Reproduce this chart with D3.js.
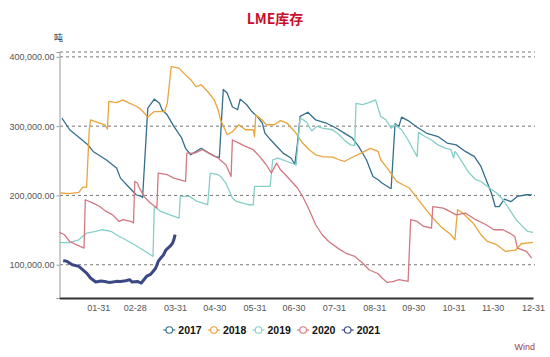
<!DOCTYPE html>
<html><head><meta charset="utf-8">
<script src="https://cdn.jsdelivr.net/npm/d3@7/dist/d3.min.js"></script>
<style>body{margin:0;background:#fff;} svg{display:block;font-family:"Liberation Sans","DejaVu Sans",sans-serif;}</style>
</head><body><svg id="c" width="550" height="357"></svg>
<script>
const titleText = "LME库存";
const unitText = "吨";
const sourceText = "Wind";
const years = ["2017", "2018", "2019", "2020", "2021"];
const colors = ["#356f8d", "#e9a43c", "#86cfc8", "#d27882", "#3b4883"];
const yTicks = [100000, 200000, 300000, 400000];
const xTickLabels = ["01-31","02-28","03-31","04-30","05-31","06-30","07-31","08-31","09-30","10-31","11-30","12-31"];

// day-of-year (0 = Jan 1) and inventory values (tonnes)
const days2017 = [2,8,22,26,36,44,47,53,59,63,64,68,73,77,79,83,88,94,97,101,109,115,120,123,126,129,133,137,139,144,148,152,156,158,162,167,172,178,181,183,185,191,197,205,213,219,225,230,236,241,245,248,254,255,258,261,263,269,275,282,291,298,305,312,319,324,328,332,335,338,342,347,352,359,363];
const vals2017 = [311700,294800,273000,263500,251500,239500,225000,213000,201000,198600,197000,326000,339000,333000,323700,316000,299600,283000,268000,258700,268000,261000,256000,255000,353000,347700,328000,323700,339000,330900,321000,314000,304500,290000,281000,271000,261000,254000,245000,275000,314000,320000,309000,304500,297000,290000,283000,270700,251500,227400,222700,217900,210700,210000,303500,299600,313000,306800,298500,290000,285000,275600,273000,263500,256000,241800,222700,203500,184000,184000,194800,191000,198600,201000,201000];

const days2018 = [1,8,15,18,21,23,24,31,35,37,38,44,49,53,60,63,68,73,78,81,83,86,92,97,101,105,109,114,119,122,124,129,133,138,143,149,150,151,156,159,165,170,175,181,187,192,197,202,210,215,219,224,232,239,245,247,252,259,264,269,274,280,287,293,301,304,306,310,318,324,329,336,343,351,355,364];
const vals2018 = [203500,202500,204300,212000,212000,294800,309000,304500,302000,295800,335600,334000,338000,334000,328000,323700,313000,321000,321000,321000,333000,386000,383800,374000,367000,357000,359700,350000,338000,323700,309000,287600,292000,302000,294800,294800,285000,316000,309000,302000,302000,308000,304500,292000,275600,266000,258700,256000,255400,251500,249000,254000,261000,268000,263500,251500,239500,220600,215400,210700,198600,184000,167400,155300,143300,136000,179400,174600,160000,143300,133600,128900,119200,121600,130300,132200];

const days2019 = [0,8,15,21,28,33,40,45,51,60,64,68,72,73,78,85,92,93,100,106,114,116,122,124,128,133,136,141,145,149,150,162,164,168,175,182,185,190,194,198,202,210,215,220,224,227,228,233,238,243,247,251,255,258,263,268,272,275,276,281,286,291,297,301,303,304,306,310,315,320,324,329,336,341,346,351,356,360,364];
const vals2019 = [132000,132000,136000,145700,148000,150500,148000,141800,136000,126400,121600,116900,112000,184000,176900,172000,167400,198600,198600,191300,186600,232300,229900,227400,217900,196200,191300,189000,186600,186600,213000,213000,251500,254000,249000,244000,312000,306000,293000,300000,297000,294800,287600,278000,273000,272000,333000,330900,334000,338000,314000,309000,297000,302000,294800,280000,266000,256000,291000,285000,280000,273000,268000,266000,254000,263500,258700,246700,232300,222700,220200,213000,203500,193800,179400,165000,155300,148000,146600];

const days2020 = [0,4,8,13,19,20,26,31,36,41,46,49,55,57,58,60,61,65,70,75,76,83,88,97,98,104,110,115,122,125,128,132,133,138,143,149,154,159,163,167,170,175,183,187,192,197,202,207,214,220,227,233,238,245,248,252,257,261,268,270,275,280,286,287,295,300,305,312,320,328,334,341,346,350,352,359,363];
const vals2020 = [146600,143300,133600,128900,124000,193800,189000,184000,176900,172000,162500,165000,162500,160200,220200,217900,213000,198600,189000,181800,232300,229900,225000,220200,261000,261000,266000,261000,254000,249000,244300,227400,280000,275600,270700,266000,256000,244300,232300,246700,237000,227400,210700,198600,179400,157700,143300,133600,124000,116900,112000,102500,92800,87000,80800,74500,75900,78400,75900,165000,162500,155300,153000,184000,181800,176900,172000,174600,165000,157700,150500,150500,145700,140800,124000,119200,109600];

const days2021 = [3,6,10,15,21,24,28,32,35,38,41,44,47,51,54,56,60,63,67,70,72,74,76,78,80,82,85,87,88,89];
const vals2021 = [106200,104800,100000,97600,88000,80800,75000,76500,75900,74500,75000,76000,75900,77000,78400,75000,75900,73600,83100,86000,90300,95000,104800,109700,114000,121600,126400,131000,136000,143300];

const seriesDays = [days2017, days2018, days2019, days2020, days2021];
const seriesVals = [vals2017, vals2018, vals2019, vals2020, vals2021];

const svg = d3.select("#c");
const base = new Date(2021, 0, 1);
const dayToDate = d => d3.timeDay.offset(base, d);
const parseMD = d3.timeParse("%Y-%m-%d");

const x = d3.scaleTime().domain([new Date(2021,0,1), new Date(2021,11,31)]).range([59.3, 533]);
const y = d3.scaleLinear().domain([52000, 407000]).range([298, 52]);

// title
svg.append("text").attr("x", 275).attr("y", 23.5).attr("text-anchor", "middle")
  .attr("font-family", "'Noto Sans CJK SC', sans-serif").attr("font-weight", "bold")
  .attr("font-size", 14).attr("fill", "#c8102e").text(titleText);
svg.append("text").attr("x", 54).attr("y", 41)
  .attr("font-family", "'Noto Sans CJK SC', sans-serif")
  .attr("font-size", 9).attr("fill", "#333").text(unitText);

// grid lines
const gridVals = yTicks.concat([y.domain()[1]]);
svg.append("g").selectAll("line").data(gridVals).join("line")
  .attr("x1", 60).attr("x2", 535)
  .attr("y1", d => y(d)).attr("y2", d => y(d))
  .attr("stroke", "#777").attr("stroke-width", 1).attr("stroke-dasharray", "3,3");

// y axis
const yAxis = svg.append("g").attr("transform", "translate(59.5,0)")
  .call(d3.axisLeft(y).tickValues(yTicks).tickSize(3).tickPadding(2).tickFormat(d3.format(",.2f")));
yAxis.select(".domain").attr("stroke", "#999");
yAxis.selectAll(".tick line").attr("stroke", "#999");
yAxis.selectAll("text").attr("font-size", 9).attr("fill", "#555");

// x axis
const xTickDates = xTickLabels.map(s => parseMD("2021-" + s));
const xAxis = svg.append("g").attr("transform", "translate(0,298)")
  .call(d3.axisBottom(x).tickValues(xTickDates).tickSize(0).tickPadding(7).tickFormat(d3.timeFormat("%m-%d")));
xAxis.select(".domain").attr("stroke", "#333").attr("stroke-width", 2);
xAxis.selectAll("text").attr("font-size", 9).attr("fill", "#555");

// lines
const line = d3.line().x(d => x(d[0])).y(d => y(d[1]));
years.forEach((yr, i) => {
  const pts = seriesDays[i].map((d, j) => [dayToDate(d), seriesVals[i][j]]);
  svg.append("path").datum(pts)
    .attr("fill", "none").attr("stroke", colors[i])
    .attr("stroke-width", i === 4 ? 3 : 1.3)
    .attr("stroke-linejoin", "round")
    .attr("d", line);
});

// legend
const lg = svg.append("g");
years.forEach((yr, i) => {
  const tx = 178.3 + i * 44.6;
  const ly = 330;
  lg.append("line").attr("x1", tx - 15).attr("x2", tx - 3).attr("y1", ly).attr("y2", ly)
    .attr("stroke", colors[i]).attr("stroke-width", 1.2);
  lg.append("circle").attr("cx", tx - 9).attr("cy", ly).attr("r", 3.3)
    .attr("fill", "#fff").attr("stroke", colors[i]).attr("stroke-width", 1.1);
  lg.append("text").attr("x", tx).attr("y", ly + 4).attr("font-size", 10.5)
    .attr("font-weight", "bold").attr("fill", "#111").text(yr);
});

svg.append("text").attr("x", 535).attr("y", 350).attr("text-anchor", "end")
  .attr("font-size", 9).attr("fill", "#9b3b45").text(sourceText);
</script>
</body></html>
